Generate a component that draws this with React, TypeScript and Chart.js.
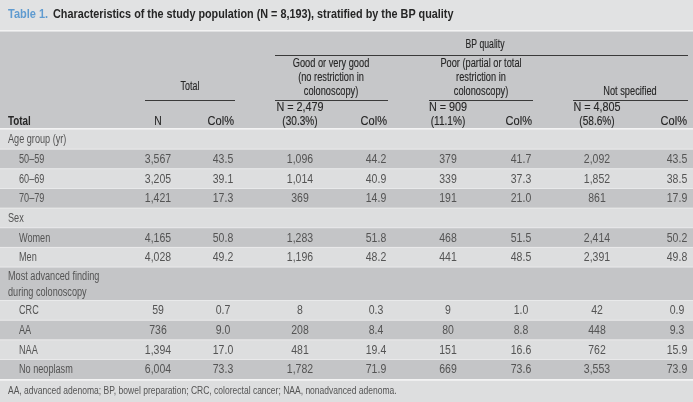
import React, { useEffect, useRef } from "react";
import { Chart, registerables } from "chart.js";

Chart.register(...registerables);

// ---- Data ----
const titleLabel = "Table 1.";
const titleText =
  "Characteristics of the study population (N = 8,193), stratified by the BP quality";
const spanHeader = "BP quality";
const groupNames: string[][] = [
  ["Total"],
  ["Good or very good", "(no restriction in", "colonoscopy)"],
  ["Poor (partial or total", "restriction in", "colonoscopy)"],
  ["Not specified"],
];
const groupCounts: (string | null)[] = [null, "N = 2,479", "N = 909", "N = 4,805"];
const groupShares: (string | null)[] = [null, "(30.3%)", "(11.1%)", "(58.6%)"];
const stubHeader = "Total";
const colHeaderN = "N";
const colHeaderPct = "Col%";

const rowLabels: string[][] = [
  ["Age group (yr)"],
  ["50–59"],
  ["60–69"],
  ["70–79"],
  ["Sex"],
  ["Women"],
  ["Men"],
  ["Most advanced finding", "during colonoscopy"],
  ["CRC"],
  ["AA"],
  ["NAA"],
  ["No neoplasm"],
];
const rowIsSection = [true, false, false, false, true, false, false, true, false, false, false, false];

const totalN = [null, 3567, 3205, 1421, null, 4165, 4028, null, 59, 736, 1394, 6004];
const totalPct = [null, 43.5, 39.1, 17.3, null, 50.8, 49.2, null, 0.7, 9.0, 17.0, 73.3];
const goodN = [null, 1096, 1014, 369, null, 1283, 1196, null, 8, 208, 481, 1782];
const goodPct = [null, 44.2, 40.9, 14.9, null, 51.8, 48.2, null, 0.3, 8.4, 19.4, 71.9];
const poorN = [null, 379, 339, 191, null, 468, 441, null, 9, 80, 151, 669];
const poorPct = [null, 41.7, 37.3, 21.0, null, 51.5, 48.5, null, 1.0, 8.8, 16.6, 73.6];
const notN = [null, 2092, 1852, 861, null, 2414, 2391, null, 42, 448, 762, 3553];
const notPct = [null, 43.5, 38.5, 17.9, null, 50.2, 49.8, null, 0.9, 9.3, 15.9, 73.9];

const footnote =
  "AA, advanced adenoma; BP, bowel preparation; CRC, colorectal cancer; NAA, nonadvanced adenoma.";

// ---- Layout / style ----
const W = 693;
const H = 402;
const FONT = '"Liberation Sans", Arial, sans-serif';
const C_TITLE_BG = "#e1e2e3";
const C_HEAD_BG = "#c6c7c9";
const C_LIGHT = "#dddedf";
const C_DARK = "#c4c5c7";
const C_SEP = "#f3f3f3";
const C_HEAD_TXT = "#262626";
const C_BODY_TXT = "#545454";
const C_BLUE = "#5f9bd0";

const numCols = [158, 223, 300, 376, 448, 521, 597, 677];
const groupSpans = [
  [145, 235],
  [275, 388],
  [429, 533],
  [573, 688],
];
const groupNameCenters = [190, 331, 481, 630];

const fmtN = (v: number) => v.toLocaleString("en-US");
const fmtP = (v: number) => v.toFixed(1);

const tablePlugin = {
  id: "tableDraw",
  beforeDraw(chart: any) {
    const { ctx, scales } = chart;
    const X = (v: number) => scales.x.getPixelForValue(v);
    const Y = (v: number) => scales.y.getPixelForValue(v);
    const rect = (x0: number, y0: number, x1: number, y1: number, c: string) => {
      ctx.fillStyle = c;
      ctx.fillRect(X(x0), Y(y0), X(x1) - X(x0), Y(y1) - Y(y0));
    };
    const text = (
      s: string,
      x: number,
      y: number,
      align: CanvasTextAlign,
      font: string,
      color: string,
      sx: number,
      stroke = 0
    ) => {
      ctx.save();
      ctx.font = font;
      ctx.fillStyle = color;
      ctx.textAlign = align;
      ctx.textBaseline = "middle";
      ctx.translate(X(x), Y(y));
      ctx.scale(sx, 1);
      ctx.fillText(s, 0, 0);
      if (stroke > 0) {
        ctx.strokeStyle = color;
        ctx.lineWidth = stroke;
        ctx.strokeText(s, 0, 0);
      }
      ctx.restore();
    };
    const hline = (x0: number, x1: number, y: number, c: string) => {
      ctx.strokeStyle = c;
      ctx.lineWidth = 1;
      ctx.beginPath();
      ctx.moveTo(X(x0), Math.round(Y(y)) + 0.5);
      ctx.lineTo(X(x1), Math.round(Y(y)) + 0.5);
      ctx.stroke();
    };

    ctx.save();
    // backgrounds
    rect(0, 0, W, 30, C_TITLE_BG);
    rect(0, 30, W, 31.5, C_SEP);
    rect(0, 31.5, W, 128, C_HEAD_BG);
    rect(0, 128, W, 129.5, C_SEP);

    // title
    const fTitle = `bold 12.5px ${FONT}`;
    text(titleLabel, 8, 14.5, "left", fTitle, C_BLUE, 0.88);
    text(titleText, 53, 14.5, "left", fTitle, C_HEAD_TXT, 0.865);

    // header
    const fHead = `12px ${FONT}`;
    const ST = 0.12; // header stroke weight
    text(spanHeader, 485, 45, "center", fHead, C_HEAD_TXT, 0.72, ST);
    hline(275, 688, 55, "#3a3a3a");
    groupNames.forEach((lines, g) => {
      if (g === 0) {
        text(lines[0], groupNameCenters[g], 87, "center", fHead, C_HEAD_TXT, 0.74, ST);
      } else {
        const startY = 92 - (lines.length - 1) * 14;
        lines.forEach((l, i) =>
          text(l, groupNameCenters[g], startY + i * 14, "center", fHead, C_HEAD_TXT, 0.77, ST)
        );
      }
      hline(groupSpans[g][0], groupSpans[g][1], 99.5, "#3a3a3a");
      const cnt = groupCounts[g];
      const sh = groupShares[g];
      if (cnt) text(cnt, numCols[g * 2], 108, "center", fHead, C_HEAD_TXT, 0.9, ST);
      if (sh) text(sh, numCols[g * 2], 122, "center", fHead, C_HEAD_TXT, 0.84, ST);
      else text(colHeaderN, numCols[g * 2], 122, "center", fHead, C_HEAD_TXT, 0.86, ST);
      text(colHeaderPct, groupSpans[g][1] - 1, 122, "right", fHead, C_HEAD_TXT, 0.92, ST);
    });
    text(stubHeader, 8, 122, "left", `bold 12px ${FONT}`, C_HEAD_TXT, 0.82);

    // body rows
    const fBody = `12.5px ${FONT}`;
    let y = 129.5;
    const cols = [totalN, totalPct, goodN, goodPct, poorN, poorPct, notN, notPct];
    rowLabels.forEach((lines, r) => {
      const h = lines.length > 1 ? 33.5 : 19.65;
      rect(0, y, W, y + h, r % 2 === 1 ? C_DARK : C_LIGHT);
      if (r > 0) rect(0, y - 0.5, W, y + 0.5, "rgba(235,235,236,0.9)");
      const x = rowIsSection[r] ? 8 : 19;
      if (lines.length > 1) {
        text(lines[0], x, y + 9.5, "left", fBody, C_BODY_TXT, 0.73);
        text(lines[1], x, y + 25, "left", fBody, C_BODY_TXT, 0.73);
      } else {
        text(lines[0], x, y + h / 2 + 0.5, "left", fBody, C_BODY_TXT, 0.73);
      }
      cols.forEach((arr, c) => {
        const v = arr[r];
        if (v === null || v === undefined) return;
        const s = c % 2 === 0 ? fmtN(v) : fmtP(v);
        text(s, numCols[c], y + h / 2 + 0.5, "center", fBody, C_BODY_TXT, 0.84);
      });
      y += h;
    });
    rect(0, y, W, y + 1.5, C_SEP);
    rect(0, y + 1.5, W, H, C_LIGHT);
    text(footnote, 8, 391, "left", `11.5px ${FONT}`, C_BODY_TXT, 0.74);
    ctx.restore();
  },
};

export default function App() {
  const ref = useRef<HTMLCanvasElement | null>(null);
  useEffect(() => {
    if (!ref.current) return;
    const chart = new Chart(ref.current, {
      type: "scatter",
      data: { datasets: [{ data: [], pointRadius: 0 }] },
      options: {
        responsive: false,
        animation: false,
        events: [],
        layout: { padding: 0 },
        plugins: { legend: { display: false }, tooltip: { enabled: false } },
        scales: {
          x: { type: "linear", min: 0, max: W, display: false },
          y: { type: "linear", min: 0, max: H, reverse: true, display: false },
        },
      },
      plugins: [tablePlugin],
    });
    return () => chart.destroy();
  }, []);
  return (
    <div style={{ position: "fixed", left: 0, top: 0, width: W, height: H }}>
      <canvas ref={ref} width={W} height={H} style={{ width: W, height: H, display: "block" }} />
    </div>
  );
}
